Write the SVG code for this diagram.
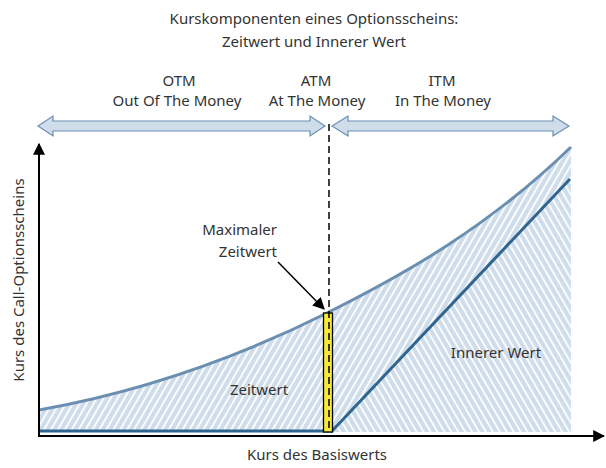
<svg xmlns="http://www.w3.org/2000/svg" width="606" height="468" viewBox="0 0 606 468">
<style>
text{font-family:"Noto Sans","Open Sans",sans-serif;font-size:15px;fill:#333;}
.mid{text-anchor:middle;}
.band{fill:#cfdcea;stroke:#6a8fb5;stroke-width:1.2;}
.axis{stroke:#000;stroke-width:2;fill:none;}
</style>
<defs>
<pattern id="hatchA" patternUnits="userSpaceOnUse" width="6" height="6" patternTransform="rotate(30)">
<rect width="6" height="6" fill="#cfdcea"/>
<rect x="0" y="0" width="1.8" height="6" fill="#fff"/>
</pattern>
<pattern id="hatchB" patternUnits="userSpaceOnUse" width="6" height="6" patternTransform="rotate(-30)">
<rect width="6" height="6" fill="#cfdcea"/>
<rect x="0" y="0" width="1.8" height="6" fill="#fff"/>
</pattern>
<marker id="ah" viewBox="0 0 10 10" refX="9" refY="5" markerWidth="6" markerHeight="6" markerUnits="strokeWidth" orient="auto">
<path d="M0,0 L10,5 L0,10 z" fill="#000"/>
</marker>
<marker id="ahs" viewBox="0 0 10 10" refX="9" refY="5" markerWidth="8" markerHeight="8" markerUnits="strokeWidth" orient="auto">
<path d="M0,0 L10,5 L0,10 z" fill="#000"/>
</marker>
</defs>

<g id="title">
<text class="mid" x="314" y="24">Kurskomponenten eines Optionsscheins:</text>
<text class="mid" x="314" y="47">Zeitwert und Innerer Wert</text>
</g>

<g id="otm">
<text class="mid" x="179" y="86">OTM</text>
<text class="mid" x="177" y="106">Out Of The Money</text>
<path class="band" d="M38,126 L53,116 L53,121 L310,121 L310,116 L325,126 L310,136 L310,131 L53,131 L53,136 Z"/>
</g>
<g id="atm">
<text class="mid" x="316" y="86">ATM</text>
<text class="mid" x="317" y="106">At The Money</text>
</g>
<g id="itm">
<text class="mid" x="442" y="86">ITM</text>
<text class="mid" x="443" y="106">In The Money</text>
<path class="band" d="M332,126 L348,116 L348,121 L553,121 L553,116 L569,126 L553,136 L553,131 L348,131 L348,136 Z"/>
</g>

<g id="areas">
<path id="zeitwert-area" d="M40,410 C135.7,392.8 231.3,360.9 327,313 C408,272.5 489,226.4 571,147 L571,179 L332,431 L40,431 Z" fill="url(#hatchA)"/>
<path id="innerer-area" d="M332,431 L571,179 L571,432 L332,432 Z" fill="url(#hatchB)"/>
</g>

<g id="curves">
<path d="M39,410 C135.7,392.8 231.3,360.9 327,313 C408,272.5 489,226.4 571,147" fill="none" stroke="#6a8fb0" stroke-width="3"/>
<path d="M39,431 L332,431 L570,179" fill="none" stroke="#2f6690" stroke-width="3"/>
</g>

<g id="max-bar">
<rect x="323.5" y="313" width="9" height="119" fill="#f8e936" stroke="#000" stroke-width="1.3"/>
</g>

<g id="connectors">
<line x1="329" y1="124" x2="329" y2="432" stroke="#000" stroke-width="1.5" stroke-dasharray="7,4"/>
<line x1="278" y1="262" x2="324" y2="309" stroke="#000" stroke-width="1.5" marker-end="url(#ahs)"/>
<line class="axis" x1="39" y1="437" x2="39" y2="144" marker-end="url(#ah)"/>
<line class="axis" x1="38" y1="436" x2="604" y2="436" marker-end="url(#ah)"/>
</g>

<g id="labels">
<text x="277" y="235" text-anchor="end">Maximaler</text>
<text x="277" y="257" text-anchor="end">Zeitwert</text>
<text class="mid" x="259" y="395">Zeitwert</text>
<text class="mid" x="496" y="358">Innerer Wert</text>
<text class="mid" x="317" y="460">Kurs des Basiswerts</text>
<text class="mid" transform="translate(24,280) rotate(-90)">Kurs des Call-Optionsscheins</text>
</g>
</svg>
